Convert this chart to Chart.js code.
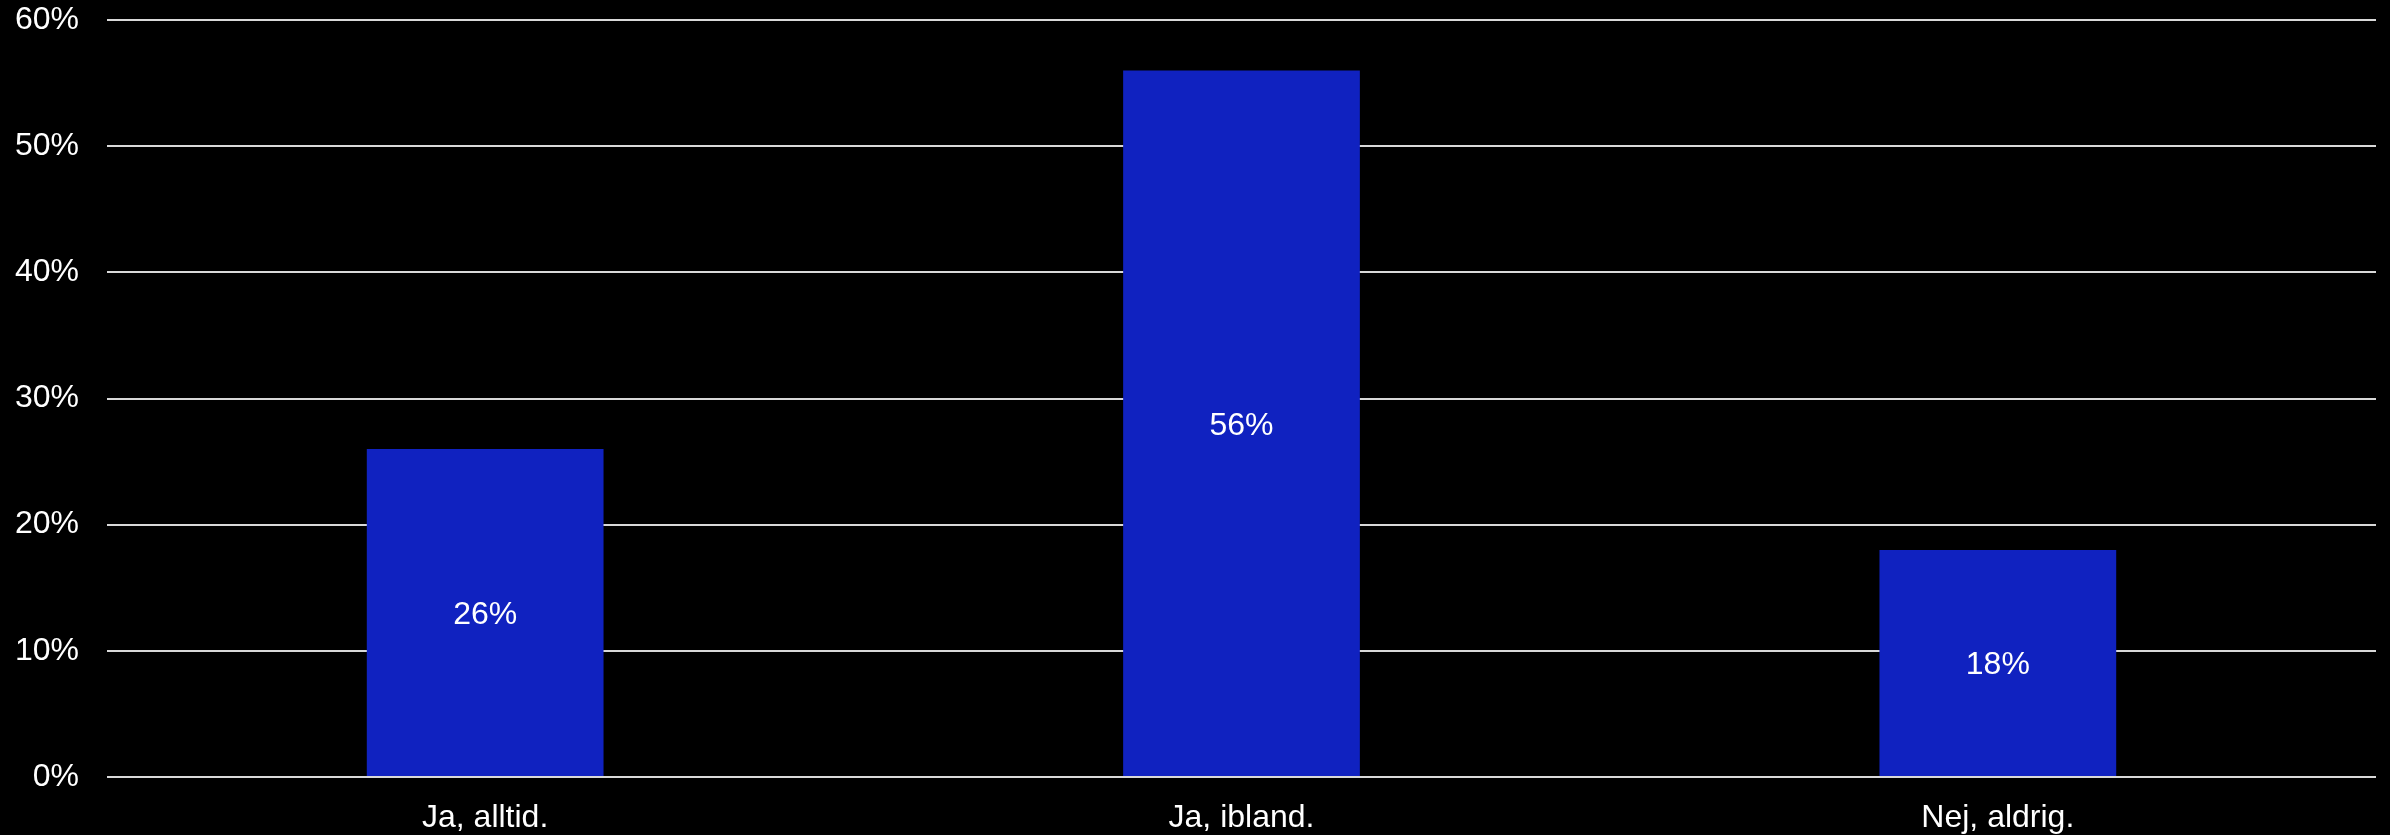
<!DOCTYPE html>
<html>
<head>
<meta charset="utf-8">
<script src="https://cdn.jsdelivr.net/npm/chart.js@4.4.1/dist/chart.umd.min.js"></script>
<style>
  html, body { margin: 0; padding: 0; background: #000; }
  #wrap { width: 2390px; height: 835px; }
</style>
</head>
<body>
<div id="wrap"><canvas id="barchart"></canvas></div>
<script>
var answerLabels = ["Ja, alltid.", "Ja, ibland.", "Nej, aldrig."]
var answerShare = [26, 56, 18]
var yTicks = [0, 10, 20, 30, 40, 50, 60]

var barColor = "#1022c0"
var textColor = "#ffffff"
var gridColor = "#d9d9d9"
var fontFamily = "'Liberation Sans', Arial, sans-serif"
var fontSize = 32

// writes the percentage in the middle of each bar (digits centred on cap height)
var barValueLabels = {
  id: "barValueLabels",
  afterDatasetsDraw(chart) {
    var ctx = chart.ctx
    var meta = chart.getDatasetMeta(0)
    ctx.save()
    ctx.fillStyle = textColor
    ctx.font = fontSize + "px " + fontFamily
    ctx.textAlign = "center"
    ctx.textBaseline = "alphabetic"
    meta.data.forEach(function (bar, i) {
      var p = bar.getProps(["x", "y", "base"], true)
      var mid = (p.y + p.base) / 2
      ctx.fillText(answerShare[i] + "%", p.x, mid + fontSize * 0.716 / 2)
    })
    ctx.restore()
  }
}

new Chart("barchart", {
  type: "bar",
  data: {
    labels: answerLabels,
    datasets: [{
      data: answerShare,
      backgroundColor: barColor,
      borderWidth: 0,
      categoryPercentage: 1,
      barPercentage: 0.313
    }]
  },
  options: {
    responsive: true,
    maintainAspectRatio: false,
    animation: false,
    layout: { padding: { top: 20, right: 14, left: 0, bottom: 0 } },
    plugins: {
      legend: { display: false },
      tooltip: { enabled: false }
    },
    scales: {
      x: {
        grid: { display: false, drawTicks: false },
        border: { display: false },
        ticks: {
          color: textColor,
          padding: 22,
          font: { size: fontSize, family: fontFamily }
        },
        afterFit: function (scale) {
          scale.height = 58
          scale.paddingLeft = 0
          scale.paddingRight = 0
        }
      },
      y: {
        min: 0,
        max: 60,
        afterBuildTicks: function (scale) {
          scale.ticks = yTicks.map(function (v) { return { value: v } })
        },
        grid: { color: gridColor, lineWidth: 2, drawTicks: false },
        border: { display: false },
        ticks: {
          color: textColor,
          padding: 28,
          font: { size: fontSize, family: fontFamily },
          callback: function (v) { return v + "%" }
        },
        afterFit: function (scale) {
          scale.width = 107
          scale.paddingTop = 0
          scale.paddingBottom = 0
        }
      }
    }
  },
  plugins: [barValueLabels]
})
</script>
</body>
</html>
